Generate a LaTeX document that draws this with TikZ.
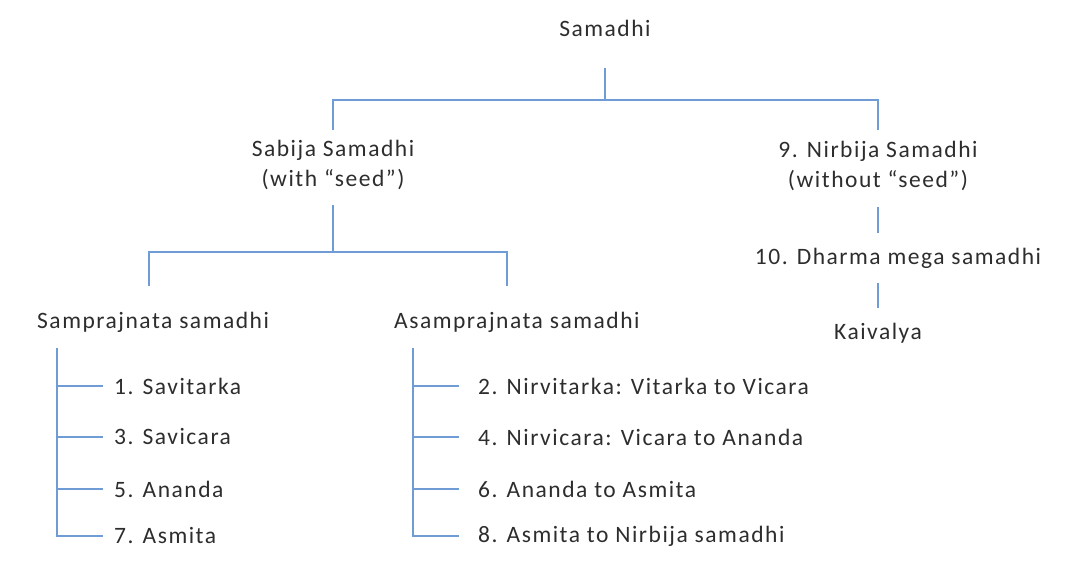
\documentclass[tikz,border=0pt]{standalone}
\usepackage{fontspec}
\setmainfont{Carlito}
\newfontfamily\diagfont[LetterSpace=6.5]{Carlito}
\usepackage{xcolor}
\usepackage{tikz}
\definecolor{treeblue}{RGB}{112,156,214}
\definecolor{inkgray}{RGB}{45,45,45}

\begin{document}
\begin{tikzpicture}[x=1pt, y=-1pt,
	lbl/.style={inner sep=0pt, text=inkgray, font=\diagfont\fontsize{23.5}{30}\selectfont},
	link/.style={draw=treeblue, line width=1.4pt}]
	\useasboundingbox (0,0) rectangle (1072,581);
	
	\node[lbl] (samadhi) at (605,28) {Samadhi};
	\node[lbl, align=center] (sabija) at (333,165) {Sabija Samadhi\\(with “seed”)};
	\node[lbl, align=center] (nirbija) at (878,166) {9. Nirbija Samadhi\\(without “seed”)};
	\node[lbl] (dharma) at (898,258) {10. Dharma mega samadhi};
	\node[lbl] (kaivalya) at (878,333) {Kaivalya};
	\node[lbl, anchor=west] (sampra) at (37,322) {Samprajnata samadhi};
	\node[lbl, anchor=west] (asampra) at (394,322) {Asamprajnata samadhi};
	
	% top level
	\coordinate (j1) at (605,100);
	\draw[link] (samadhi) ++(0,40) -- (j1);
	\draw[link] (sabija) ++(0,-35) |- (nirbija.center |- j1) -- ++(0,30);
	
	% nirbija branch
	\draw[link] (nirbija) ++(0,41) -- ++(0,26);
	\draw[link] (kaivalya) ++(0,-50) -- ++(0,25);
	
	% sabija branch
	\coordinate (j2) at (333,252);
	\coordinate (s1) at (149,286);
	\coordinate (s2) at (507,286);
	\draw[link] (sabija) ++(0,40) -- (j2);
	\draw[link] (s1) |- (j2) -| (s2);
	
	% lists
	\foreach \y/\t [count=\i] in {386/1. Savitarka, 437/3. Savicara, 489/5. Ananda, 536/7. Asmita}
	{
		\node[lbl, anchor=west] (sa\i) at (114,\y) {\t};
		\draw[link] (57,348) |- ([xshift=-11pt]sa\i.west);
	}
	\foreach \y/\t [count=\i] in {386/2. Nirvitarka: Vitarka to Vicara, 437/4. Nirvicara: Vicara to Ananda, 489/6. Ananda to Asmita, 536/8. Asmita to Nirbija samadhi}
	{
		\node[lbl, anchor=west] (as\i) at (478,\y) {\t};
		\draw[link] (413,348) |- ([xshift=-19pt]as\i.west);
	}
\end{tikzpicture}
\end{document}
